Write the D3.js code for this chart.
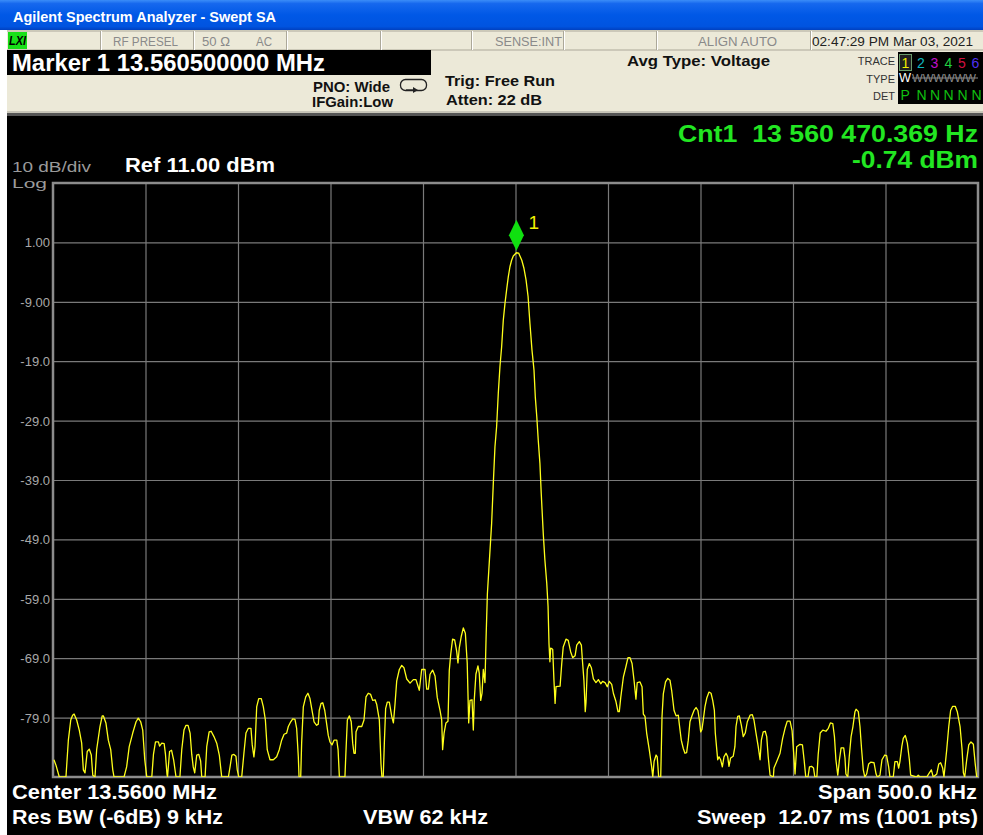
<!DOCTYPE html>
<html>
<head>
<meta charset="utf-8">
<script src="https://cdn.jsdelivr.net/npm/d3@7"></script>
<style>
  html, body { margin: 0; padding: 0; background: #ffffff; }
  svg { display: block; }
  text { font-family: "Liberation Sans", Arial, sans-serif; white-space: pre; }
</style>
</head>
<body>
<svg id="sa" width="983" height="835"></svg>
<script>
// ---- Instrument settings ----
const refLevelDbm = 11;          // top of the display
const dbPerDiv = 10;
const divisions = 10;
const spanKHz = 500;             // 13.56 MHz centre, 500 kHz span
const yTickLevels = [1, -9, -19, -29, -39, -49, -59, -69, -79];
const yTickLabels = ["1.00", "-9.00", "-19.0", "-29.0", "-39.0", "-49.0", "-59.0", "-69.0", "-79.0"];
const xGridOffsets = [-200, -150, -100, -50, 0, 50, 100, 150, 200];

// ---- Trace 1 (offset from centre in kHz, level in dBm) ----
const freqKHz = [
  -249.5,-248.4,-246.6,-243.0,-241.7,-240.4,-239.4,-238.6,-237.2,-235.8,-234.5,-233.6,-232.7,-231.5,-230.4,-229.3,-228.5,-227.3,
  -226.4,-224.6,-223.4,-222.8,-221.4,-220.1,-218.8,-217.7,-217.0,-211.6,-210.2,-208.8,-206.9,-205.1,-203.9,-202.6,-201.5,-200.4,
  -199.3,-196.6,-195.7,-194.6,-193.0,-192.4,-191.2,-189.9,-189.2,-188.4,-188.1,-187.0,-185.9,-184.8,-183.5,-181.4,-180.4,-179.2,
  -178.1,-177.0,-175.9,-175.0,-174.2,-173.4,-172.3,-171.2,-170.2,-169.6,-167.8,-166.9,-165.6,-164.5,-163.0,-161.5,-160.1,-159.4,
  -158.8,-155.2,-154.3,-153.3,-152.2,-151.1,-150.4,-149.6,-148.0,-146.8,-145.7,-144.4,-143.0,-142.3,-141.4,-140.8,-139.9,-138.8,
  -137.4,-136.3,-135.2,-134.2,-132.7,-130.9,-129.1,-127.7,-126.4,-125.1,-123.7,-122.8,-121.5,-120.4,-119.2,-118.3,-117.4,-117.0,
  -116.1,-115.6,-114.7,-113.4,-112.2,-111.1,-110.2,-108.9,-107.5,-106.6,-106.1,-105.1,-104.2,-103.1,-102.1,-101.2,-100.3,-99.2,
  -98.1,-96.6,-95.9,-95.2,-92.2,-91.6,-90.9,-89.8,-88.8,-88.0,-87.3,-86.6,-86.2,-85.0,-83.1,-81.9,-80.8,-79.6,-78.3,-77.2,-75.9,
  -75.0,-73.6,-72.7,-72.2,-71.5,-70.9,-70.2,-69.3,-68.2,-66.9,-66.0,-65.1,-64.2,-62.8,-61.5,-60.3,-58.8,-57.0,-55.2,-53.8,-53.1,
  -52.0,-50.7,-48.9,-48.0,-47.1,-46.2,-44.8,-43.5,-42.3,-40.8,-39.9,-39.4,-38.6,-37.6,-36.5,-35.8,-35.0,-34.0,-32.9,-31.8,-31.1,
  -30.4,-29.3,-28.2,-27.1,-26.1,-25.3,-24.6,-23.5,-22.8,-22.3,-21.4,-20.3,-19.6,-18.8,-18.1,-17.4,-16.5,-15.9,-15.2,-14.2,-12.9,
  -12.0,-11.1,-10.2,-9.3,-8.4,-7.5,-6.6,-5.7,-4.8,-3.9,-3.0,-2.1,-1.2,0.5,1.7,3.4,4.6,5.7,6.8,7.8,8.9,10.0,10.7,11.5,12.3,13.2,
  13.9,15.0,15.9,16.9,17.6,18.1,18.6,19.0,20.1,20.8,21.4,21.9,24.1,25.0,25.8,27.3,28.5,29.8,30.9,32.2,33.1,34.5,35.6,36.3,37.0,
  37.7,38.1,38.8,39.9,41.0,42.1,43.5,44.8,46.1,47.1,48.4,49.6,50.7,52.0,52.9,54.3,55.4,56.1,56.9,58.3,59.7,60.8,61.9,63.0,64.1,
  65.1,65.8,67.3,68.4,69.1,70.0,70.9,72.3,73.6,74.2,74.9,76.0,76.6,77.4,78.5,79.2,79.9,81.1,82.3,83.5,84.4,85.7,86.8,88.0,88.5,
  89.6,90.7,91.6,92.5,93.4,94.3,95.4,96.5,97.6,98.6,99.4,100.1,100.8,101.5,102.4,103.4,104.6,105.7,106.6,107.5,108.0,108.8,109.3,
  110.0,110.9,111.8,112.7,113.8,114.7,115.4,116.3,117.7,118.6,119.2,120.1,121.0,122.1,123.1,124.2,125.3,126.8,128.0,128.9,130.0,
  131.2,132.2,132.9,133.9,135.0,135.8,136.6,137.6,139.4,139.7,141.2,143.0,144.4,145.7,146.9,148.4,149.5,150.5,151.1,152.0,153.8,
  155.1,156.0,156.9,158.1,158.9,160.0,161.1,161.8,162.9,163.6,164.7,166.1,167.8,169.1,170.2,171.5,172.4,173.2,174.2,175.1,176.0,
  177.4,178.1,178.6,179.6,180.4,181.4,182.4,183.5,184.1,185.3,186.2,187.1,188.0,188.8,189.8,190.9,192.0,193.8,194.9,195.6,197.0,
  198.1,199.6,200.6,201.7,202.4,204.2,205.1,206.4,207.1,207.8,208.8,209.6,210.7,211.8,212.9,213.6,216.9,217.7,218.6,222.3,223.7,
  224.8,225.8,227.7,228.8,229.8,230.9,231.6,233.1,234.2,235.2,236.3,237.7,238.8,240.3,241.4,242.1,242.8,243.9,245.0,246.2,247.5,
  248.5,249.3,250.0
];
const levelDbm = [
  -86.1,-87.0,-89,-89,-82.8,-79.4,-78.6,-78.4,-79.4,-81.1,-83.3,-87.8,-88.3,-84.7,-84.3,-85.3,-88.7,-89,
  -84.4,-80.5,-78.7,-78.7,-79.9,-82.8,-84.4,-87.8,-89,-89,-87.3,-83.9,-81.6,-79.7,-79.1,-79.7,-81.1,-86.1,
  -89,-89,-85.2,-83.1,-83.1,-83.8,-83.3,-83.4,-85.2,-88.5,-89,-84.7,-84.5,-86.1,-89,-89,-84.4,-81.1,
  -80.3,-80.3,-81.6,-85.2,-87.3,-88.3,-85.3,-85.2,-86.3,-89,-89,-83.9,-81.4,-81.3,-82.2,-83.3,-85.3,-87.3,
  -89,-89,-87.3,-85.3,-85.2,-85.5,-87.8,-89,-89,-85.0,-81.6,-80.8,-80.8,-83.6,-85.6,-83.9,-77.2,-75.8,
  -75.8,-77.2,-79.4,-84.4,-86.1,-86.1,-85.6,-84.4,-82.8,-81.8,-81.6,-80.5,-79.7,-79.2,-79.3,-80.8,-85.6,-89,
  -89,-83.3,-77.2,-75.5,-74.9,-75.8,-77.4,-79.7,-80.3,-80.1,-77.8,-76.6,-76.5,-77.8,-80.0,-82.0,-83.1,-83.6,
  -82.8,-82.8,-84.4,-89,-89,-84.4,-79.4,-78.7,-79.7,-83.3,-85.0,-85.0,-81.4,-80.5,-80.5,-79.4,-75.5,-74.9,-75.1,-76.1,-76.0,
  -76.8,-79.4,-86.8,-89,-89,-83.3,-77.5,-76.4,-76.4,-78.8,-79.9,-76.6,-72.8,-70.9,-70.2,-70.6,-72.5,-73.2,-72.6,-72.6,-73.3,
  -74.4,-70.9,-70.9,-74.2,-74.2,-71.7,-71.0,-72.0,-75.6,-77.8,-79.4,-84.4,-81.6,-79.9,-79.6,-71.1,-68.3,-65.8,-65.9,-67.8,-69.8,
  -67.3,-65.3,-63.9,-64.8,-69.8,-79.9,-76.1,-76.0,-81.1,-76.1,-71.7,-70.3,-71.5,-76.1,-74.9,-70.9,-73.1,-65.5,-58.2,-53.0,-46.3,
  -39.6,-33.4,-30.0,-24.4,-19.9,-16.6,-12.1,-9.3,-7.0,-4.8,-3.1,-2.0,-1.3,-0.74,-0.8,-2.0,-3.4,-5.3,-8.1,-12.6,-17.1,-20.5,-25.0,-28.3,-32.3,-36.2,
  -41.2,-48.0,-52.5,-56.4,-60.3,-66.5,-69.6,-67.3,-67.5,-72.8,-76.6,-73.8,-73.7,-69.9,-67.1,-65.8,-66.0,-67.9,-68.9,-68.6,-66.8,-66.2,-66.8,-69.9,-72.8,
  -78.0,-76.5,-70.9,-69.9,-70.6,-72.5,-73.1,-72.6,-73.3,-72.9,-73.1,-73.8,-72.9,-73.4,-74.9,-76.3,-78.0,-78.0,-75.6,-72.2,-70.4,-68.9,-68.9,-69.9,-72.8,
  -75.9,-73.1,-73.0,-73.8,-78.4,-78.8,-81.6,-84.4,-87.3,-89,-86.4,-85.3,-85.6,-89,-89,-78.8,-75.0,-73.0,-72.4,-72.7,-74.4,-77.8,-78.7,-78.6,-80.0,
  -82.8,-84.2,-85.0,-84.9,-82.8,-79.7,-78.7,-77.8,-77.3,-77.8,-79.4,-81.4,-81.0,-79.4,-77.2,-75.7,-74.7,-74.9,-76.1,-77.8,-81.6,-84.4,-86.1,
  -85.6,-86.1,-87.3,-85.6,-85.0,-85.6,-87.2,-85.8,-85.5,-83.9,-80.5,-78.8,-78.7,-80.3,-82.2,-81.6,-79.7,-78.6,-78.5,-79.4,-81.6,
  -83.9,-86.1,-82.8,-81.4,-81.3,-82.2,-85.6,-88.7,-89,-87.5,-86.4,-85.0,-82.5,-80.8,-79.6,-79.6,-81.2,-85.6,-88.5,-83.9,-83.5,
  -83.6,-86.1,-89,-89,-87.3,-87.2,-87.5,-89,-89,-85.3,-81.6,-81.1,-81.3,-80.8,-79.9,-80.0,-82.2,-86.1,-88.7,-86.1,-84.1,
  -84.1,-85.8,-88.5,-89,-85.6,-82.2,-80.5,-78.0,-77.6,-78.0,-80.5,-84.4,-87.8,-89,-88.5,-86.8,-86.5,-86.6,-88.5,-89,-88.7,
  -86.1,-85.3,-85.4,-87.3,-89,-89,-86.4,-86.4,-87.5,-86.4,-83.9,-82.5,-82.0,-83.3,-86.1,-88.7,-89,-88.7,-89,-89,-88.3,
  -87.8,-89,-88.5,-86.8,-86.6,-87.5,-89,-84.4,-80.5,-77.8,-77.1,-77.1,-78.0,-80.5,-84.4,-88.3,-89,-86.1,-83.6,-83.1,-83.5,
  -86.8,-89,-89
];

// ---- Marker ----
const markerOffsetKHz = 0.5;
const markerLevelDbm = -0.74;

// ---- Header / annotation text ----
const windowTitle = "Agilent Spectrum Analyzer - Swept SA";
const statusCells = ["RF PRESEL", "50 Ω", "AC", "SENSE:INT", "ALIGN AUTO"];
const timeStamp = "02:47:29 PM Mar 03, 2021";
const markerReadout = "Marker 1 13.560500000 MHz";
const traceNumbers = ["1", "2", "3", "4", "5", "6"];
const traceNumberColors = ["#f0f000", "#10b8c0", "#c010c8", "#20d040", "#d01040", "#5030f0"];
const detectors = ["P", "N", "N", "N", "N", "N"];

const svg = d3.select("#sa");
const W = 983, H = 835;

// ---- Window chrome ----
const defs = svg.append("defs");
const grad = defs.append("linearGradient").attr("id", "titleGrad").attr("x1", 0).attr("y1", 0).attr("x2", 0).attr("y2", 1);
[["0%", "#3b8df8"], ["12%", "#1668ee"], ["50%", "#0058e6"], ["88%", "#0054e0"], ["100%", "#0040c0"]]
  .forEach(([o, c]) => grad.append("stop").attr("offset", o).attr("stop-color", c));

svg.append("rect").attr("x", 0).attr("y", 0).attr("width", W).attr("height", H).attr("fill", "#ffffff");
svg.append("rect").attr("x", 0).attr("y", 0).attr("width", W).attr("height", 30).attr("fill", "url(#titleGrad)");
svg.append("text").attr("x", 13).attr("y", 22).attr("fill", "#ffffff").attr("font-weight", "bold")
  .attr("font-size", 14.5).attr("textLength", 263).attr("lengthAdjust", "spacingAndGlyphs").text(windowTitle);

// header panel
svg.append("rect").attr("x", 7).attr("y", 30).attr("width", W - 7).attr("height", 84).attr("fill", "#ece9d8");
// status row
svg.append("line").attr("x1", 7).attr("x2", W).attr("y1", 31).attr("y2", 31).attr("stroke", "#aca899");
svg.append("line").attr("x1", 7).attr("x2", W).attr("y1", 50).attr("y2", 50).attr("stroke", "#aca899");
[100.5, 193.5, 286.5, 380.5, 471.5, 563.5, 656.5, 810.5].forEach(px => {
  svg.append("line").attr("x1", px).attr("x2", px).attr("y1", 31).attr("y2", 50).attr("stroke", "#aca899");
  svg.append("line").attr("x1", px + 1).attr("x2", px + 1).attr("y1", 31).attr("y2", 50).attr("stroke", "#ffffff");
});
svg.append("rect").attr("x", 8).attr("y", 32).attr("width", 19).attr("height", 17).attr("fill", "#18e018");
svg.append("text").attr("x", 9).attr("y", 45).attr("font-size", 12).attr("font-weight", "bold")
  .attr("font-style", "italic").attr("fill", "#000").attr("textLength", 17).attr("lengthAdjust", "spacingAndGlyphs").text("LXI");

const statusPos = [[113, 65], [202, 28], [256, 16], [495, 67], [698, 79]];
statusCells.forEach((t, i) => {
  svg.append("text").attr("x", statusPos[i][0]).attr("y", 46).attr("font-size", 12.5).attr("fill", "#8a8a8a")
    .attr("textLength", statusPos[i][1]).attr("lengthAdjust", "spacingAndGlyphs").text(t);
});
svg.append("text").attr("x", 812).attr("y", 46).attr("font-size", 12.5).attr("fill", "#222")
  .attr("textLength", 161).attr("lengthAdjust", "spacingAndGlyphs").text(timeStamp);

// marker readout block
svg.append("rect").attr("x", 7).attr("y", 50).attr("width", 424).attr("height", 25).attr("fill", "#000");
svg.append("text").attr("x", 12).attr("y", 71).attr("font-size", 23).attr("font-weight", "bold").attr("fill", "#fff")
  .attr("textLength", 313).attr("lengthAdjust", "spacingAndGlyphs").text(markerReadout);

function boldText(tx, ty, size, len, t, color) {
  return svg.append("text").attr("x", tx).attr("y", ty).attr("font-size", size).attr("font-weight", "bold")
    .attr("fill", color || "#111").attr("textLength", len).attr("lengthAdjust", "spacingAndGlyphs").text(t);
}
boldText(313, 92, 14, 77, "PNO: Wide");
boldText(312, 107, 14, 81, "IFGain:Low");
boldText(445, 86, 15, 110, "Trig: Free Run");
boldText(446, 105, 15, 96, "Atten: 22 dB");
boldText(627, 66, 15.5, 143, "Avg Type: Voltage");

// sweep-mode icon
svg.append("rect").attr("x", 400.5).attr("y", 79.5).attr("width", 26).attr("height", 11).attr("rx", 5)
  .attr("fill", "none").attr("stroke", "#222").attr("stroke-width", 1.3);
svg.append("line").attr("x1", 406).attr("x2", 416).attr("y1", 90).attr("y2", 90).attr("stroke", "#222").attr("stroke-width", 1.3);
svg.append("path").attr("d", "M413,87 L418,90 L413,93 Z").attr("fill", "#222");

// trace status box
svg.append("text").attr("x", 895).attr("y", 65).attr("text-anchor", "end").attr("font-size", 11).attr("fill", "#333").text("TRACE");
svg.append("text").attr("x", 895).attr("y", 83).attr("text-anchor", "end").attr("font-size", 11).attr("fill", "#333").text("TYPE");
svg.append("text").attr("x", 895).attr("y", 100).attr("text-anchor", "end").attr("font-size", 11).attr("fill", "#333").text("DET");
svg.append("rect").attr("x", 898).attr("y", 52).attr("width", W - 898).attr("height", 52).attr("fill", "#000");
svg.append("rect").attr("x", 899.5).attr("y", 54.5).attr("width", 12).attr("height", 16).attr("fill", "#202020")
  .attr("stroke", "#6a9a6a").attr("stroke-width", 1);
const traceNumX = [901.5, 917, 930.5, 944.5, 958, 971.5];
traceNumbers.forEach((n, i) => {
  svg.append("text").attr("x", traceNumX[i]).attr("y", 68).attr("font-size", 14).attr("fill", traceNumberColors[i]).text(n);
});
svg.append("text").attr("x", 899).attr("y", 82).attr("font-size", 13).attr("fill", "#ffffff")
  .attr("textLength", 12).attr("lengthAdjust", "spacingAndGlyphs").text("W");
svg.append("text").attr("x", 912).attr("y", 82).attr("font-size", 10.5).attr("fill", "#8a8a8a")
  .attr("textLength", 64).attr("lengthAdjust", "spacingAndGlyphs").text("WWWWWW");
svg.append("line").attr("x1", 912).attr("x2", 978).attr("y1", 78).attr("y2", 78).attr("stroke", "#8a8a8a");
const detX = [900.5, 916.5, 930, 943.5, 957.5, 971.5];
detectors.forEach((d, i) => {
  svg.append("text").attr("x", detX[i]).attr("y", 100).attr("font-size", 14).attr("fill", "#10c010").text(d);
});

// separator between header and display
svg.append("rect").attr("x", 7).attr("y", 111).attr("width", W - 7).attr("height", 2).attr("fill", "#c8c5b8");
svg.append("rect").attr("x", 7).attr("y", 113).attr("width", W - 7).attr("height", 3).attr("fill", "#555");

// ---- Display area ----
svg.append("rect").attr("x", 7).attr("y", 116).attr("width", W - 7).attr("height", H - 116).attr("fill", "#000");

const plotLeft = 53, plotRight = 978, plotTop = 183, plotBottom = 777;
const x = d3.scaleLinear().domain([-spanKHz / 2, spanKHz / 2]).range([plotLeft, plotRight]);
const y = d3.scaleLinear().domain([refLevelDbm - dbPerDiv * divisions, refLevelDbm]).range([plotBottom, plotTop]);

// graticule via axes
const gridColor = "#7a7a7a";
const gx = svg.append("g").attr("transform", `translate(0,${plotBottom})`)
  .call(d3.axisBottom(x).tickValues(xGridOffsets).tickSize(-(plotBottom - plotTop)).tickFormat(""));
gx.select(".domain").remove();
gx.selectAll(".tick line").attr("stroke", gridColor).attr("stroke-width", 1.2);

const gy = svg.append("g").attr("transform", `translate(${plotLeft},0)`)
  .call(d3.axisLeft(y).tickValues(yTickLevels).tickSize(-(plotRight - plotLeft)).tickPadding(4)
    .tickFormat((d, i) => yTickLabels[i]));
gy.select(".domain").remove();
gy.selectAll(".tick line").attr("stroke", gridColor).attr("stroke-width", 1.2);
gy.selectAll(".tick text").attr("fill", "#a8a8a8").attr("font-size", 13)
  .attr("font-family", "'Liberation Sans', Arial, sans-serif").attr("x", -3).attr("dy", "0.35em");

// frame
svg.append("rect").attr("x", plotLeft).attr("y", plotTop).attr("width", plotRight - plotLeft).attr("height", plotBottom - plotTop)
  .attr("fill", "none").attr("stroke", "#8c8c8c").attr("stroke-width", 2.5);

// trace
const nPts = Math.min(freqKHz.length, levelDbm.length);
defs.append("clipPath").attr("id", "plotClip").append("rect")
  .attr("x", plotLeft).attr("y", plotTop - 1).attr("width", plotRight - plotLeft).attr("height", plotBottom - plotTop + 1);
const line = d3.line().x(i => x(freqKHz[i])).y(i => y(Math.max(levelDbm[i], -89.05)));
svg.append("path").attr("clip-path", "url(#plotClip)")
  .attr("d", line(d3.range(nPts)))
  .attr("fill", "none").attr("stroke", "#ffff1a").attr("stroke-width", 1.3).attr("stroke-linejoin", "round");

// marker 1
const mx = x(markerOffsetKHz), my = y(markerLevelDbm);
svg.append("path").attr("d", `M${mx},${my - 33} L${mx + 7.5},${my - 17.5} L${mx},${my - 2} L${mx - 7.5},${my - 17.5} Z`)
  .attr("fill", "#10e010");
svg.append("text").attr("x", mx + 12).attr("y", my - 24).attr("font-size", 19).attr("fill", "#f0f000").text("1");

// display annotations
svg.append("text").attr("x", 12).attr("y", 171.5).attr("font-size", 14.5).attr("fill", "#9a9a9a")
  .attr("textLength", 79).attr("lengthAdjust", "spacingAndGlyphs").text("10 dB/div");
svg.append("text").attr("x", 12).attr("y", 187.5).attr("font-size", 13.5).attr("fill", "#9a9a9a")
  .attr("textLength", 35).attr("lengthAdjust", "spacingAndGlyphs").text("Log");
boldText(125, 172, 20, 150, "Ref 11.00 dBm", "#ffffff");

const green = "#22e622";
boldText(678, 142, 24, 300, "Cnt1  13 560 470.369 Hz", green);
boldText(852, 168, 24, 126, "-0.74 dBm", green);

boldText(12, 799, 21, 205, "Center 13.5600 MHz", "#ffffff");
boldText(12, 824, 21, 211, "Res BW (-6dB) 9 kHz", "#ffffff");
boldText(363, 824, 21, 125, "VBW 62 kHz", "#ffffff");
boldText(818, 799, 21, 159, "Span 500.0 kHz", "#ffffff");
boldText(697, 824, 21, 281, "Sweep  12.07 ms (1001 pts)", "#ffffff");
</script>
</body>
</html>
